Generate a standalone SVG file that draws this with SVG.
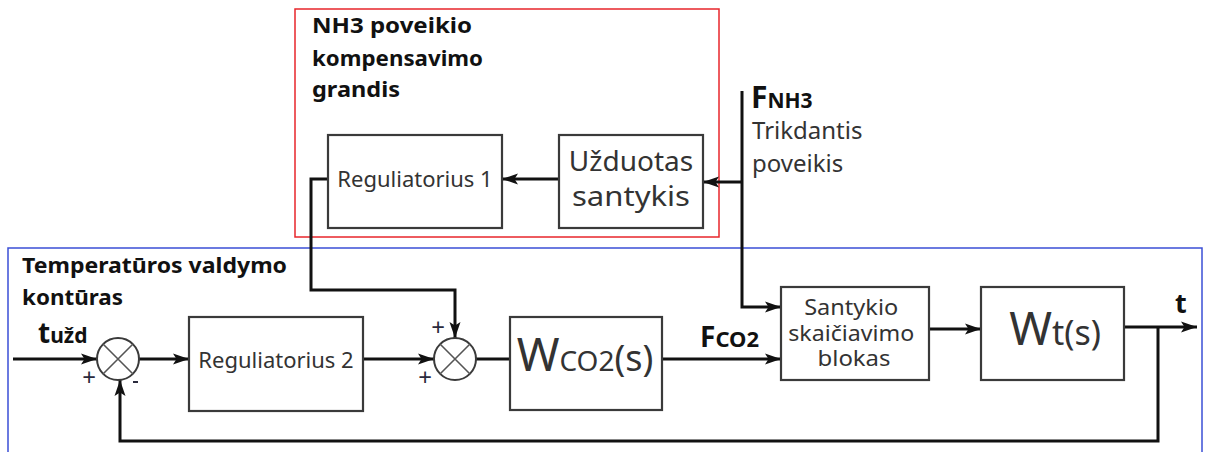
<svg xmlns="http://www.w3.org/2000/svg" width="1206" height="452" viewBox="0 0 1206 452">
  <style>
    .frame-red { fill: none; stroke: #e8262b; stroke-width: 1.5; }
    .frame-blue { fill: none; stroke: #3b4fd6; stroke-width: 1.5; }
    .block { fill: #fff; stroke: #3a3a3a; stroke-width: 2.2; }
    .sum { fill: #fff; stroke: #3a3a3a; stroke-width: 2; }
    .cross { stroke: #555; stroke-width: 1.6; }
    .wire { fill: none; stroke: #111; stroke-width: 3; }
    .arr { marker-end: url(#head); }
    .lbl { font-family: "Noto Sans", "Open Sans", sans-serif; fill: #333; }
    .hd { font-family: "Noto Sans", "Open Sans", sans-serif; font-weight: bold; fill: #111; }
    .sign { font-family: "Noto Sans", sans-serif; font-size: 24px; fill: #2a2a3c; text-anchor: middle; }
  </style>
  <defs>
    <marker id="head" markerUnits="userSpaceOnUse" markerWidth="18" markerHeight="14" refX="16" refY="7" orient="auto">
      <path d="M0,1.5 L16,7 L0,12.5 L3.5,7 Z" fill="#111"/>
    </marker>
  </defs>

  <rect width="1206" height="452" fill="#fff"/>

  <!-- group frames -->
  <rect class="frame-red" x="295" y="9" width="424" height="228"/>
  <rect class="frame-blue" x="8" y="248" width="1194" height="220"/>

  <text class="hd" font-size="21">
    <tspan x="312" y="33" textLength="160" lengthAdjust="spacingAndGlyphs">NH3 poveikio</tspan>
    <tspan x="312" y="66" textLength="171" lengthAdjust="spacingAndGlyphs">kompensavimo</tspan>
    <tspan x="312" y="97" textLength="88" lengthAdjust="spacingAndGlyphs">grandis</tspan>
  </text>
  <text class="hd" font-size="21">
    <tspan x="22" y="273" textLength="265" lengthAdjust="spacingAndGlyphs">Temperatūros valdymo</tspan>
    <tspan x="22" y="305" textLength="101" lengthAdjust="spacingAndGlyphs">kontūras</tspan>
  </text>

  <!-- connectors -->
  <g id="connectors">
    <path class="wire arr" d="M13,359 H97"/>
    <path class="wire arr" d="M139,359 H189"/>
    <path class="wire arr" d="M363,359 H434"/>
    <path class="wire" d="M476,359 H510"/>
    <path class="wire arr" d="M662,359 H781"/>
    <path class="wire arr" d="M929,329 H981"/>
    <path class="wire arr" d="M1124,327 H1197"/>
    <path class="wire arr" d="M1158,327 V441 H120 V380"/>
    <path class="wire arr" d="M328,179 H311 V290 H455 V338"/>
    <path class="wire arr" d="M742,91 V307 H781"/>
    <path class="wire arr" d="M742,182 H703"/>
    <path class="wire arr" d="M559,179 H502"/>
  </g>

  <!-- blocks -->
  <g id="reg1">
    <rect class="block" x="328" y="135" width="174" height="93"/>
    <text class="lbl" x="415" y="187" font-size="22" text-anchor="middle">Reguliatorius 1</text>
  </g>
  <g id="uzduotas">
    <rect class="block" x="559" y="135" width="144" height="93"/>
    <text class="lbl" font-size="28" text-anchor="middle"><tspan x="631" y="171">Užduotas</tspan><tspan x="631" y="206" textLength="118" lengthAdjust="spacingAndGlyphs">santykis</tspan></text>
  </g>
  <g id="reg2">
    <rect class="block" x="189" y="317" width="174" height="94"/>
    <text class="lbl" x="276" y="368" font-size="22" text-anchor="middle">Reguliatorius 2</text>
  </g>
  <g id="wco2">
    <rect class="block" x="510" y="317" width="152" height="93"/>
    <text class="lbl" x="585" y="371" text-anchor="middle" fill="#222"><tspan font-size="46">W</tspan><tspan font-size="28">CO2</tspan><tspan font-size="36">(s)</tspan></text>
  </g>
  <g id="santykio">
    <rect class="block" x="781" y="287" width="148" height="93"/>
    <text class="lbl" font-size="21.5" text-anchor="middle">
      <tspan x="854" y="315" textLength="94" lengthAdjust="spacingAndGlyphs">Santykio</tspan>
      <tspan x="854" y="341" textLength="126" lengthAdjust="spacingAndGlyphs">skaičiavimo</tspan>
      <tspan x="854" y="366" textLength="73" lengthAdjust="spacingAndGlyphs">blokas</tspan>
    </text>
  </g>
  <g id="wt">
    <rect class="block" x="981" y="287" width="143" height="93"/>
    <text class="lbl" x="1055" y="345" text-anchor="middle" fill="#222"><tspan font-size="46">W</tspan><tspan font-size="34">t(s)</tspan></text>
  </g>

  <!-- summing junctions -->
  <g id="sum1">
    <circle class="sum" cx="118" cy="359" r="21"/>
    <path class="cross" d="M103,344 L133,374 M133,344 L103,374"/>
    <text class="sign" x="89" y="386">+</text>
    <path d="M133,382 H138" stroke="#2a2a3c" stroke-width="2"/>
  </g>
  <g id="sum2">
    <circle class="sum" cx="455" cy="359" r="21"/>
    <path class="cross" d="M440,344 L470,374 M470,344 L440,374"/>
    <text class="sign" x="438" y="336">+</text>
    <text class="sign" x="425" y="386">+</text>
  </g>

  <!-- signal labels -->
  <text class="hd" x="38" y="343"><tspan font-size="28">t</tspan><tspan font-size="21">užd</tspan></text>
  <text class="hd" x="700" y="347"><tspan font-size="28">F</tspan><tspan font-size="22">CO2</tspan></text>
  <text class="hd" x="751" y="108"><tspan font-size="30">F</tspan><tspan font-size="21">NH3</tspan></text>
  <text class="lbl" font-size="24"><tspan x="752" y="139">Trikdantis</tspan><tspan x="752" y="172">poveikis</tspan></text>
  <text class="hd" x="1175" y="313" font-size="27">t</text>
</svg>
